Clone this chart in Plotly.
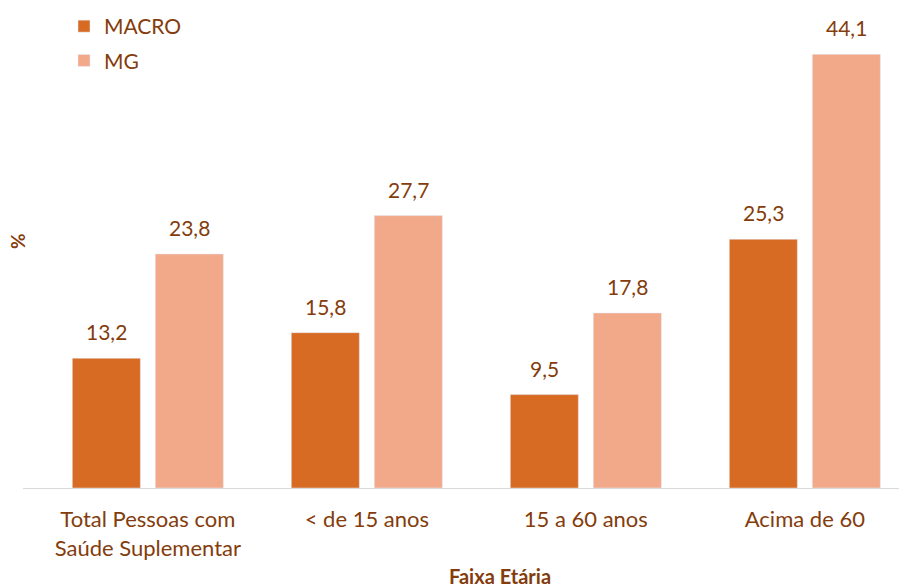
import plotly.graph_objects as go

categories = ["Total Pessoas com<br>Saúde Suplementar", "< de 15 anos", "15 a 60 anos", "Acima de 60"]
macro = [13.2, 15.8, 9.5, 25.3]
mg = [23.8, 27.7, 17.8, 44.1]

TXT = "#843c0c"
FONT = "Lato, Open Sans, sans-serif"
W, H = 899, 587
L, R, T, B = 23, 0, 16, 99
PW, PH = W - L - R, H - T - B

BARGAP, GROUPGAP = 0.242, 0.18

def fmt(v):
    return f"{v:.1f}".replace(".", ",")

def px_x(x):
    return (x - L) / PW

def px_y(y):
    return (H - B - y) / PH

fig = go.Figure()
fig.add_trace(go.Bar(name="MACRO", x=categories, y=macro, marker_color="#d86b24",
                     legendgroup="a"))
fig.add_trace(go.Bar(name="MG", x=categories, y=mg, marker_color="#f2a98a",
                     legendgroup="b"))

cat_px = PW / 4.0
slot = cat_px * (1 - BARGAP) / 2
for vals, sign in ((macro, -1), (mg, 1)):
    for c, v in zip(categories, vals):
        fig.add_annotation(x=c, y=v, text=fmt(v), showarrow=False, xref="x", yref="y",
                           xshift=sign * slot / 2, yanchor="bottom", yshift=12,
                           font=dict(family=FONT, size=21, color=TXT))

fig.add_annotation(x=px_x(18), y=px_y(241), xref="paper", yref="paper", text="<b>%</b>",
                   showarrow=False, textangle=-90, xanchor="center", yanchor="middle",
                   font=dict(family=FONT, size=19, color=TXT))
fig.add_annotation(x=px_x(500), y=px_y(576), xref="paper", yref="paper",
                   text="<b>Faixa Etária</b>", showarrow=False, xanchor="center", yanchor="middle",
                   font=dict(family=FONT, size=20, color=TXT))

fig.update_layout(
    width=W, height=H, margin=dict(l=L, r=R, t=T, b=B),
    plot_bgcolor="white", paper_bgcolor="white",
    barmode="group", bargap=BARGAP, bargroupgap=GROUPGAP,
    font=dict(family=FONT, size=21, color=TXT),
    legend=dict(x=px_x(64), y=px_y(6), xanchor="left", yanchor="top",
                font=dict(family=FONT, size=21, color=TXT), tracegroupgap=4,
                itemwidth=30, bgcolor="rgba(0,0,0,0)"),
    xaxis=dict(range=[-0.57, 3.43], showline=True, linecolor="#d9d9d9", linewidth=1,
               ticks="", ticklabelstandoff=12,
               tickfont=dict(family=FONT, size=22, color=TXT), showgrid=False),
    yaxis=dict(range=[0, 48], visible=False, showgrid=False),
)
fig.write_html("out.html", config={"displayModeBar": False},
               post_script="document.body.style.margin='0';document.body.style.overflow='hidden';")
